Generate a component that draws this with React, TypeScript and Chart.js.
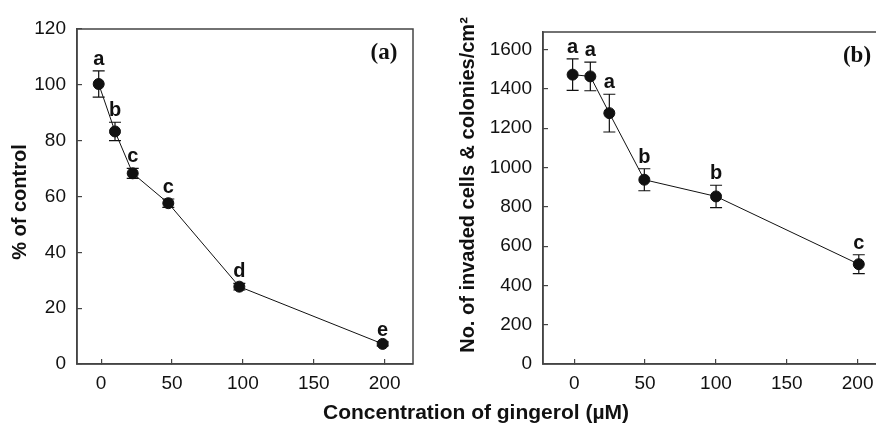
import React, { useEffect, useRef } from "react";
import { Chart, registerables } from "chart.js";

Chart.register(...registerables);

// ---- Panel (a): % of control ----
const doseA = [-1.7, 9.8, 22.3, 47.4, 97.5, 198.6];
const pctControl = [100.3, 83.3, 68.3, 57.6, 27.7, 7.2];
const pctError = [4.7, 3.3, 1.8, 1.5, 1.2, 0.7];
const lettersA = ["a", "b", "c", "c", "d", "e"];
const yTicksA = [0, 20, 40, 60, 80, 100, 120];

// ---- Panel (b): invaded cells & colonies ----
const doseB = [-1.1, 11.4, 24.8, 49.5, 100.1, 200.8];
const invaded = [1473, 1464, 1277, 938, 853, 508];
const invadedError = [80, 73, 96, 56, 57, 48];
const lettersB = ["a", "a", "a", "b", "b", "c"];
const yTicksB = [0, 200, 400, 600, 800, 1000, 1200, 1400, 1600];

const xTicks = [0, 50, 100, 150, 200];

const xTitle = "Concentration of gingerol (\u00B5M)";
const yTitleA = "% of control";
const yTitleB = "No. of invaded cells & colonies/cm\u00B2";

const SANS = "'Liberation Sans', Arial, Helvetica, sans-serif";
const SERIF = "'Liberation Serif', 'Times New Roman', serif";
const INK = "#111";
const AXIS = "#444";

const annotate = {
  id: "annotate",
  beforeDatasetsDraw(chart: any) {
    const ds = chart.data.datasets[0];
    const meta = chart.getDatasetMeta(0);
    const y = chart.scales.y;
    const ctx = chart.ctx;
    ctx.save();
    ctx.strokeStyle = INK;
    ctx.lineWidth = 1.2;
    ds.data.forEach((p: any, i: number) => {
      const e = ds.errors[i];
      const x = meta.data[i].x;
      const yt = y.getPixelForValue(p.y + e);
      const yb = y.getPixelForValue(p.y - e);
      ctx.beginPath();
      ctx.moveTo(x, yt);
      ctx.lineTo(x, yb);
      ctx.moveTo(x - 6, yt);
      ctx.lineTo(x + 6, yt);
      ctx.moveTo(x - 6, yb);
      ctx.lineTo(x + 6, yb);
      ctx.stroke();
    });
    ctx.restore();
  },
  afterDatasetsDraw(chart: any, _args: any, opts: any) {
    const ds = chart.data.datasets[0];
    const meta = chart.getDatasetMeta(0);
    const y = chart.scales.y;
    const ctx = chart.ctx;
    const area = chart.chartArea;
    ctx.save();
    ctx.fillStyle = INK;
    ctx.font = `bold 20px ${SANS}`;
    ctx.textAlign = "center";
    ctx.textBaseline = "alphabetic";
    ds.data.forEach((p: any, i: number) => {
      const x = meta.data[i].x;
      const yt = y.getPixelForValue(p.y + ds.errors[i]);
      ctx.fillText(ds.letters[i], x, yt - 6);
    });
    // frame
    ctx.strokeStyle = AXIS;
    ctx.lineWidth = 1.5;
    ctx.strokeRect(area.left, area.top, area.right - area.left, area.bottom - area.top);
    // panel label
    ctx.font = `bold 23px ${SERIF}`;
    ctx.textBaseline = "middle";
    ctx.fillText(opts.panel, area.right - 29, area.top + 24);
    // y-axis title
    ctx.font = `bold 20px ${SANS}`;
    ctx.save();
    ctx.translate(opts.yTitleX, opts.yTitleY);
    ctx.rotate(-Math.PI / 2);
    ctx.fillText(opts.yTitle, 0, 0);
    ctx.restore();
    if (opts.sharedTitle) {
      ctx.font = `bold 21px ${SANS}`;
      ctx.textBaseline = "middle";
      ctx.fillText(opts.sharedTitle, opts.titleX, opts.titleY);
    }
    ctx.restore();
  },
};

function makeConfig(
  xs: number[],
  ys: number[],
  errs: number[],
  letters: string[],
  yTicks: number[],
  xMin: number,
  yMax: number,
  yWidth: number,
  padding: any,
  pluginOpts: any
) {
  const tickFont = { family: SANS, size: 19 };
  const grid = {
    drawOnChartArea: false,
    drawTicks: true,
    tickLength: -5,
    color: AXIS,
    lineWidth: 1.2,
  };
  return {
    type: "scatter",
    data: {
      datasets: [
        {
          data: xs.map((x, i) => ({ x, y: ys[i] })),
          errors: errs,
          letters,
          showLine: true,
          borderColor: INK,
          borderWidth: 1,
          backgroundColor: INK,
          pointBackgroundColor: INK,
          pointBorderColor: INK,
          pointRadius: 5.5,
          tension: 0,
        },
      ],
    },
    options: {
      responsive: false,
      animation: false,
      devicePixelRatio: 1,
      layout: { padding },
      plugins: {
        legend: { display: false },
        tooltip: { enabled: false },
        annotate: pluginOpts,
      },
      scales: {
        x: {
          type: "linear",
          min: xMin,
          max: 220,
          afterBuildTicks: (s: any) => {
            s.ticks = xTicks.map((v) => ({ value: v }));
          },
          afterFit: (s: any) => {
            s.height = 60;
          },
          grid,
          border: { display: true, color: AXIS, width: 1.5 },
          ticks: {
            padding: 13,
            color: INK,
            font: tickFont,
            callback: (v: any) => String(v),
          },
        },
        y: {
          type: "linear",
          min: 0,
          max: yMax,
          afterBuildTicks: (s: any) => {
            s.ticks = yTicks.map((v) => ({ value: v }));
          },
          afterFit: (s: any) => {
            s.width = yWidth;
          },
          grid,
          border: { display: true, color: AXIS, width: 1.5 },
          ticks: {
            padding: 16,
            color: INK,
            font: tickFont,
            callback: (v: any) => String(v),
          },
        },
      },
    },
    plugins: [annotate],
  };
}

export default function App() {
  const refA = useRef<HTMLCanvasElement>(null);
  const refB = useRef<HTMLCanvasElement>(null);

  useEffect(() => {
    const a = new Chart(
      refA.current as HTMLCanvasElement,
      makeConfig(
        doseA,
        pctControl,
        pctError,
        lettersA,
        yTicksA,
        -17,
        120,
        77,
        { top: 29, right: 463, bottom: 0, left: 0 },
        {
          panel: "(a)",
          yTitle: yTitleA,
          yTitleX: 20,
          yTitleY: 202,
          sharedTitle: xTitle,
          titleX: 476,
          titleY: 413,
        }
      ) as any
    );
    const b = new Chart(
      refB.current as HTMLCanvasElement,
      makeConfig(
        doseB,
        invaded,
        invadedError,
        lettersB,
        yTicksB,
        -22,
        1690,
        105,
        { top: 32, right: 52, bottom: 0, left: 0 },
        { panel: "(b)", yTitle: yTitleB, yTitleX: 30, yTitleY: 185 }
      ) as any
    );
    return () => {
      a.destroy();
      b.destroy();
    };
  }, []);

  return (
    <div
      style={{
        position: "absolute",
        left: 0,
        top: 0,
        width: 876,
        height: 424,
        overflow: "hidden",
        background: "#fff",
      }}
    >
      <canvas
        ref={refA}
        width={876}
        height={424}
        style={{ position: "absolute", left: 0, top: 0, width: 876, height: 424 }}
      />
      <canvas
        ref={refB}
        width={500}
        height={424}
        style={{ position: "absolute", left: 438, top: 0, width: 500, height: 424 }}
      />
    </div>
  );
}
